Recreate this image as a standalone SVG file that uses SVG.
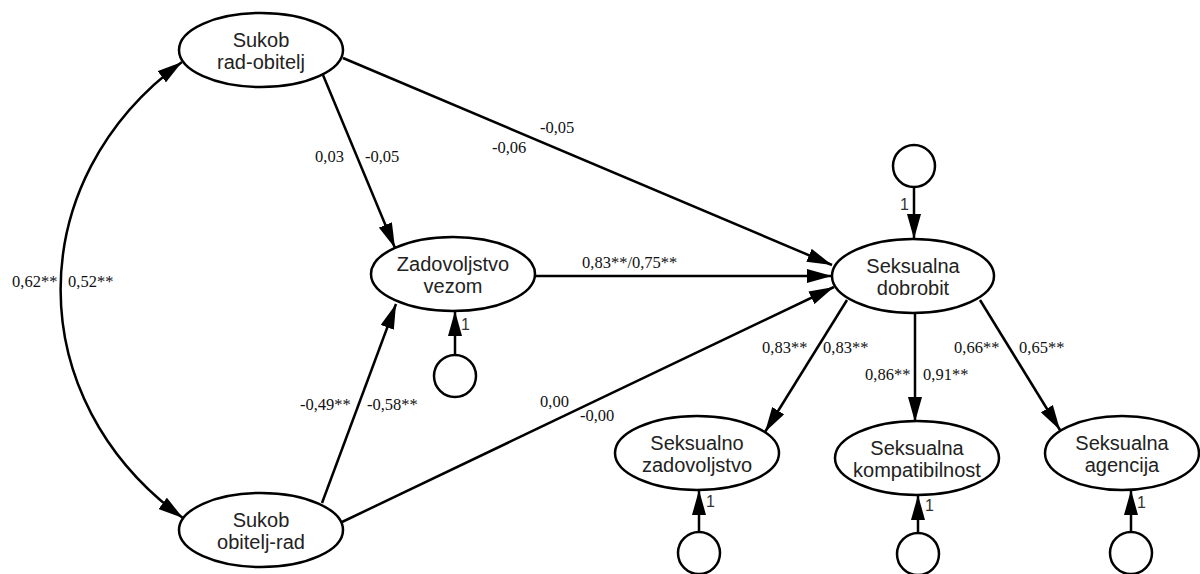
<svg xmlns="http://www.w3.org/2000/svg" width="1200" height="574" viewBox="0 0 1200 574">
<style>
.n{fill:#fff;stroke:#000;stroke-width:2.5}
.t{font-family:"Liberation Sans",Arial,sans-serif;font-size:20px;fill:#222;text-anchor:middle}
.one{font-family:"Liberation Sans",Arial,sans-serif;font-size:16px;fill:#333}
.l{font-family:"Liberation Serif","Times New Roman",serif;font-size:16.5px;fill:#111}
.c{fill:none;stroke:#000;stroke-width:2.5;marker-end:url(#ah)}
</style>
<defs>
<marker id="ah" markerUnits="userSpaceOnUse" markerWidth="26" markerHeight="14" refX="25" refY="7" orient="auto-start-reverse">
<path d="M0,0 L25,7 L0,14 z" fill="#000"/>
</marker>
</defs>
<rect width="1200" height="574" fill="#fff"/>
<g id="connectors">
<path class="c" d="M182,62 C20,180 20,400 183,518" style="marker-start:url(#ah)"/>
<line class="c" x1="323" y1="75" x2="395" y2="248"/>
<line class="c" x1="343" y1="58" x2="832" y2="265"/>
<line class="c" x1="535" y1="276" x2="832" y2="276"/>
<line class="c" x1="322" y1="503" x2="396" y2="304"/>
<line class="c" x1="342" y1="522" x2="834" y2="287"/>
<line class="c" x1="847" y1="300" x2="765" y2="432"/>
<line class="c" x1="915" y1="313" x2="915" y2="422"/>
<line class="c" x1="980" y1="300" x2="1060" y2="430"/>
<line class="c" x1="914" y1="187" x2="914" y2="239"/>
<line class="c" x1="455" y1="355" x2="455" y2="311"/>
<line class="c" x1="699" y1="532" x2="699" y2="490"/>
<line class="c" x1="918" y1="533" x2="918" y2="495"/>
<line class="c" x1="1131" y1="532" x2="1131" y2="490"/>
<text class="l" x="12" y="287">0,62**</text>
<text class="l" x="68" y="287">0,52**</text>
<text class="l" x="315" y="162">0,03</text>
<text class="l" x="365" y="162">-0,05</text>
<text class="l" x="540" y="133">-0,05</text>
<text class="l" x="492" y="153">-0,06</text>
<text class="l" x="582" y="268">0,83**/0,75**</text>
<text class="l" x="300" y="410">-0,49**</text>
<text class="l" x="367" y="410">-0,58**</text>
<text class="l" x="540" y="407">0,00</text>
<text class="l" x="580" y="421">-0,00</text>
<text class="l" x="762" y="353">0,83**</text>
<text class="l" x="823" y="353">0,83**</text>
<text class="l" x="865" y="380">0,86**</text>
<text class="l" x="923" y="380">0,91**</text>
<text class="l" x="954" y="353">0,66**</text>
<text class="l" x="1019" y="353">0,65**</text>
<text class="one" x="900" y="210">1</text>
<text class="one" x="461" y="330">1</text>
<text class="one" x="706" y="507">1</text>
<text class="one" x="925" y="511">1</text>
<text class="one" x="1137" y="508">1</text>
</g>
<g id="sukob-rad-obitelj">
<ellipse class="n" cx="261" cy="50" rx="82" ry="37"/>
<text class="t" x="261" y="47">Sukob</text>
<text class="t" x="261" y="69">rad-obitelj</text>
</g>
<g id="sukob-obitelj-rad">
<ellipse class="n" cx="261" cy="530" rx="82" ry="37"/>
<text class="t" x="261" y="527">Sukob</text>
<text class="t" x="261" y="549">obitelj-rad</text>
</g>
<g id="zadovoljstvo-vezom">
<ellipse class="n" cx="453" cy="274" rx="82" ry="37"/>
<text class="t" x="453" y="271">Zadovoljstvo</text>
<text class="t" x="453" y="293">vezom</text>
</g>
<g id="seksualna-dobrobit">
<ellipse class="n" cx="913" cy="276" rx="81" ry="37"/>
<text class="t" x="913" y="273">Seksualna</text>
<text class="t" x="913" y="295">dobrobit</text>
</g>
<g id="seksualno-zadovoljstvo">
<ellipse class="n" cx="697" cy="453" rx="82" ry="37"/>
<text class="t" x="697" y="450">Seksualno</text>
<text class="t" x="697" y="472">zadovoljstvo</text>
</g>
<g id="seksualna-kompatibilnost">
<ellipse class="n" cx="917" cy="458" rx="82" ry="37"/>
<text class="t" x="917" y="455">Seksualna</text>
<text class="t" x="917" y="477">kompatibilnost</text>
</g>
<g id="seksualna-agencija">
<ellipse class="n" cx="1122" cy="453" rx="77" ry="37"/>
<text class="t" x="1122" y="450">Seksualna</text>
<text class="t" x="1122" y="472">agencija</text>
</g>
<g id="e-zadovoljstvo-vezom"><circle class="n" cx="455" cy="376" r="21"/></g>
<g id="e-seksualna-dobrobit"><circle class="n" cx="914" cy="166" r="21"/></g>
<g id="e-seksualno-zadovoljstvo"><circle class="n" cx="699" cy="553" r="21"/></g>
<g id="e-seksualna-kompatibilnost"><circle class="n" cx="918" cy="554" r="21"/></g>
<g id="e-seksualna-agencija"><circle class="n" cx="1131" cy="553" r="21"/></g>
</svg>
